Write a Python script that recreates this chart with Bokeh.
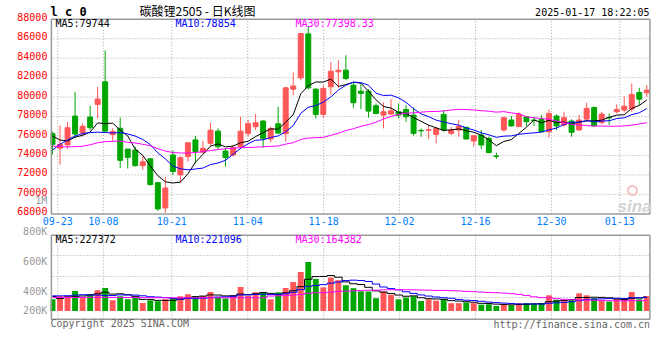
from bokeh.plotting import figure
from bokeh.models import Range1d, Label
from bokeh.embed import file_html
from bokeh.resources import INLINE

# ---------------- data ----------------
dates = ["09-20", "09-23", "09-24", "09-25", "09-26", "09-27", "09-30",
         "10-08", "10-09", "10-10", "10-11",
         "10-14", "10-15", "10-16", "10-17", "10-18",
         "10-21", "10-22", "10-23", "10-24", "10-25",
         "10-28", "10-29", "10-30", "10-31", "11-01",
         "11-04", "11-05", "11-06", "11-07", "11-08",
         "11-11", "11-12", "11-13", "11-14", "11-15",
         "11-18", "11-19", "11-20", "11-21", "11-22",
         "11-25", "11-26", "11-27", "11-28", "11-29",
         "12-02", "12-03", "12-04", "12-05", "12-06",
         "12-09", "12-10", "12-11", "12-12", "12-13",
         "12-16", "12-17", "12-18", "12-19", "12-20",
         "12-23", "12-24", "12-25", "12-26", "12-27",
         "12-30", "12-31", "01-02", "01-03",
         "01-06", "01-07", "01-08", "01-09", "01-10",
         "01-13", "01-14", "01-15", "01-16", "01-17"]

open_ = [76250, 74750, 75080, 78050, 76300, 77950, 79250, 81570, 76150, 76800,
         74650, 74550, 72950, 73650, 71200, 68600, 74050, 72000, 73880, 75600,
         74330, 75250, 76500, 74450, 74050, 74900, 76250, 76950, 77540, 75690,
         77260, 76240, 80820, 81980, 86500, 80820, 78220, 81060, 82600, 82770,
         81230, 80610, 80610, 79110, 78150, 78256, 78490, 78730, 78150, 76580,
         76580, 76170, 78220, 76270, 76620, 76890, 75490, 76100, 75760, 73950,
         76620, 77640, 76960, 77980, 77640, 77710, 76440, 78050, 77130, 77540,
         76620, 77740, 78940, 77400, 77900, 78500, 78670, 78770, 80480, 80440]
high = [76450, 77100, 77450, 80550, 77300, 79100, 81050, 84800, 76800, 77900,
        74700, 74900, 73900, 73700, 71250, 71800, 74500, 73900, 75350, 76000,
        75480, 77370, 76780, 74730, 75070, 77980, 77650, 78250, 77600, 76950,
        79000, 81060, 82530, 86600, 87300, 80900, 81230, 83620, 83800, 84300,
        81570, 81330, 80820, 79350, 79450, 79790, 79350, 79180, 78940, 76780,
        77130, 76960, 78670, 76960, 77640, 76950, 76100, 76620, 75930, 74300,
        77980, 78050, 78430, 78050, 77980, 78150, 78730, 78220, 78500, 77710,
        78150, 79420, 79000, 78500, 78320, 79250, 80100, 81400, 80960, 81230]
low = [74100, 73050, 74700, 75800, 75930, 76600, 77800, 76450, 75450, 72700,
       72650, 72850, 72500, 70900, 68300, 68100, 72000, 71200, 73370, 73200,
       74200, 75000, 74660, 72850, 73880, 74730, 75950, 76600, 74800, 75350,
       76200, 75420, 80200, 81740, 80800, 77800, 77880, 80200, 80950, 81740,
       78900, 78770, 77880, 78220, 76780, 78150, 77810, 77470, 76030, 75930,
       75690, 75250, 76440, 76100, 75930, 75650, 74900, 74670, 74220, 73650,
       76440, 76960, 76950, 77030, 77030, 76380, 75830, 76620, 76960, 75930,
       76550, 77470, 76960, 77200, 77130, 78320, 78430, 78500, 79180, 80030]
close = [75150, 75150, 76850, 76200, 77000, 76850, 79800, 76500, 76450, 73500,
         73800, 72950, 73350, 71000, 68500, 70650, 72350, 73780, 75300, 74400,
         74730, 76600, 74900, 73780, 74800, 76500, 77270, 77370, 75760, 76780,
         76300, 80950, 81130, 86530, 80950, 78220, 80890, 82660, 82770, 81910,
         79420, 80380, 78560, 78320, 78490, 78600, 78150, 77980, 76270, 76530,
         76640, 76780, 76610, 76610, 77000, 75690, 76030, 75080, 74290, 73900,
         77880, 77030, 78250, 77470, 77600, 76440, 78320, 77030, 77880, 76380,
         77640, 78840, 77030, 78250, 77860, 78730, 79070, 80270, 79790, 80720]
volume = [193000, 248000, 248000, 330000, 221000, 276000, 342000, 380000, 177000, 243000,
          193000, 215000, 132000, 177000, 160000, 193000, 215000, 243000, 276000, 248000,
          248000, 314000, 231000, 205000, 259000, 396000, 248000, 309000, 309000, 193000,
          309000, 380000, 479000, 644000, 809000, 528000, 391000, 551000, 508000, 424000,
          376000, 325000, 322000, 211000, 322000, 269000, 193000, 221000, 244000, 165000,
          193000, 170000, 198000, 129000, 129000, 140000, 129000, 104000, 111000, 83000,
          116000, 94000, 129000, 129000, 119000, 129000, 259000, 185000, 182000, 193000,
          292000, 259000, 211000, 170000, 157000, 198000, 205000, 314000, 193000, 244000]

# moving-average values at the left edge (their windows start before the first visible day)
ma5_head = [76000, 75580, 75500, 75880]
ma10_head = [74550, 75150, 75600, 76000, 76250, 76350, 76400, 76350, 76320]
ma30_head = [74970, 74900, 74880, 74900, 74950, 75100, 75300, 75420, 75450, 75480,
             75350, 75280, 75150, 75000, 74700, 74450, 74300, 74250, 74250, 74300,
             74400, 74500, 74600, 74700, 74750, 74800, 74820, 74850, 74900]
vma5_head = [240000, 205000, 230000, 235000]
vma10_head = [250000, 250000, 252000, 262000, 268000, 265000, 262000, 258000, 255000]
vma30_head = [222000, 222000, 223000, 223000, 224000, 224000, 225000, 225000, 225000, 224000,
              223000, 222000, 221000, 220000, 219000, 219000, 218000, 218000, 218000, 218000,
              218000, 218000, 218000, 218000, 218000, 218000, 218000, 218000, 218000]

date_ticks = ["09-23", "10-08", "10-21", "11-04", "11-18", "12-02", "12-16", "12-30", "01-13"]
price_ticks = [68000, 70000, 72000, 74000, 76000, 78000, 80000, 82000, 84000, 86000, 88000]
vol_axis_labels = ["1M", "800K", "600K", "400K", "200K"]
legend_main = ["MA5:79744", "MA10:78854", "MA30:77398.33"]
legend_vol = ["MA5:227372", "MA10:221096", "MA30:164382"]
title_code = "lc0"
title_name = "碳酸锂2505 - 日K线图"
stamp = "2025-01-17 18:22:05"


def sma(vals, n, head):
    out = list(head)
    for i in range(len(head), len(vals)):
        out.append(sum(vals[i - n + 1:i + 1]) / n)
    return out


ma5 = sma(close, 5, ma5_head)
ma10 = sma(close, 10, ma10_head)
ma30 = sma(close, 30, ma30_head)
vma5 = sma(volume, 5, vma5_head)
vma10 = sma(volume, 10, vma10_head)
vma30 = sma(volume, 30, vma30_head)

# ---------------- layout helpers (picture pixels -> data) ----------------
W, H = 652, 338
X0PX, DX = 52.0, 7.5228
def xd(px):
    return (px - X0PX) / DX

PY_TOP, PY_BOT = 18.8, 213.3
PP = 20000.0 / (PY_BOT - PY_TOP)
def yd(py):
    return 88000 - (py - PY_TOP) * PP

VBASE, VPP = 310.5, 16500.0
def vd(py):
    return (VBASE - py) * VPP

RED, GREEN = "#ff5757", "#00a600"
GRID = "#aaaaaa"
BORDER = "#9a9a9a"
MONO = "DejaVu Sans Mono"

# the frame fills the whole canvas so that all texts stay visible
p = figure(width=W, height=H, output_backend="svg", toolbar_location=None,
           x_range=Range1d(xd(0), xd(W)), y_range=Range1d(yd(H), yd(0)),
           x_axis_location=None, y_axis_location=None, title=None,
           min_border_left=0, min_border_right=0, min_border_top=0, min_border_bottom=0,
           outline_line_color=None, background_fill_color="white")
p.extra_y_ranges = {"vol": Range1d(vd(H), vd(0))}
p.xgrid.visible = False
p.ygrid.visible = False

n = len(close)
idx = list(range(n))
cols = [RED if c >= o else GREEN for o, c in zip(open_, close)]

# panel extents (pixels)
PL, PR = 50.0, 650.0
MT, MB = 18.7, 213.5
VT, VB = 234.7, 318.7

# grid lines
xs, xe = xd(PL), xd(PR)
hg = price_ticks[1:-1]
p.segment(x0=[xs] * len(hg), x1=[xe] * len(hg), y0=hg, y1=hg,
          line_color=GRID, line_dash="1 2", line_width=1)
vtop, vbot = vd(234), vd(318)
vg = [vbot + k * (vtop - vbot) / 4 for k in (1, 2, 3)]
p.segment(x0=[xs] * 3, x1=[xe] * 3, y0=vg, y1=vg, line_color=GRID, line_dash="1 2",
          line_width=1, y_range_name="vol")
tick_x = [dates.index(d) * 1.0095 - 0.3 for d in date_ticks]
p.segment(x0=tick_x, x1=tick_x, y0=[68000] * len(tick_x), y1=[88000] * len(tick_x),
          line_color=GRID, line_dash="1 2", line_width=1)
p.segment(x0=tick_x, x1=tick_x, y0=[vbot] * len(tick_x), y1=[vtop] * len(tick_x),
          line_color=GRID, line_dash="1 2", line_width=1, y_range_name="vol")

# candles
p.segment(x0=idx, x1=idx, y0=low, y1=high, line_color=cols, line_width=1)
p.vbar(x=idx, width=0.66, top=[max(o, c) for o, c in zip(open_, close)],
       bottom=[min(o, c) for o, c in zip(open_, close)],
       fill_color=cols, line_color=cols, line_width=1)
p.line(idx, ma5, line_color="black", line_width=1)
p.line(idx, ma10, line_color="#0000ff", line_width=1)
p.line(idx, ma30, line_color="#ff00ff", line_width=1)

# volume
p.vbar(x=idx, width=0.78, top=volume, bottom=0, fill_color=cols, line_color=None,
       y_range_name="vol")
p.step(idx, vma5, mode="center", line_color="black", line_width=1, y_range_name="vol")
p.step(idx, vma10, mode="center", line_color="#0000ff", line_width=1, y_range_name="vol")
p.step(idx, vma30, mode="center", line_color="#ff00ff", line_width=1, y_range_name="vol")

# white masks left of the panels (clip marks at the panel edge)
p.quad(left=[xd(0)], right=[xd(PL)], top=[yd(MT - 1)], bottom=[yd(MB + 1)],
       fill_color="white", line_color=None)
p.quad(left=[xd(0)], right=[xd(PL)], top=[yd(VT - 1)], bottom=[yd(VB + 1)],
       fill_color="white", line_color=None)
p.quad(left=[xd(PR)], right=[xd(W)], top=[yd(MT - 1)], bottom=[yd(VB + 1)],
       fill_color="white", line_color=None)

# panel borders
p.quad(left=[xd(50.9)], right=[xd(649.4)], top=[yd(MT)], bottom=[yd(MB)],
       fill_color=None, line_color=BORDER, line_width=1.5)
p.quad(left=[xd(50.9)], right=[xd(649.4)], top=[yd(VT)], bottom=[yd(VB)],
       fill_color=None, line_color=BORDER, line_width=1.5)


def lab(text, px, py, color, size="10px", font=MONO, align="left", style="normal",
        baseline="middle"):
    p.add_layout(Label(x=xd(px), y=yd(py), text=text, text_color=color, text_font=font,
                       text_font_size=size, text_align=align, text_baseline=baseline,
                       text_font_style=style))


# price axis labels (drawn slightly above their grid lines, as in the source)
for t in price_ticks:
    p.add_layout(Label(x=xd(46.9), y=t + 2.5 * PP, text=str(t), text_color="#ff0000",
                       text_font=MONO, text_font_size="10px", text_align="right",
                       text_baseline="middle"))

# date labels
for d, tx in zip(date_ticks, tick_x):
    p.add_layout(Label(x=tx, y=yd(220.7), text=d, text_color="#0080ff", text_font=MONO,
                       text_font_size="10px", text_align="center", text_baseline="middle"))

# legends
lcol = ["black", "#0000ff", "#ff00ff"]
for t, px, c in zip(legend_main, [55, 175, 295], lcol):
    lab(t, px, 22.8, c)
for t, px, c in zip(legend_vol, [55, 175, 295], lcol):
    lab(t, px, 238.5, c)

# volume axis labels
for t, py in zip(vol_axis_labels, [200.3, 231, 261, 290.7, 310]):
    lab(t, 46.7, py, "#999999", align="right")

# titles
lab(" ".join(title_code), 50, 11.7, "black", size="12px", style="bold")
lab(title_name, 197, 9.5, "black", size="12px", font="Noto Sans CJK SC", align="center")
lab(stamp, 649, 11.7, "black", size="10px", align="right")

# footer
lab("Copyright 2025 SINA.COM", 50, 323.3, "#666666")
lab("http://finance.sina.com.cn", 649.5, 324, "#666666", align="right")

# watermark
p.scatter([xd(632)], [yd(190)], marker="circle", size=9, fill_color=None,
          line_color="#f3c0c0", line_width=2)
lab("sina", 651, 206, "#d2d2d2", size="17px", font="Liberation Sans", align="right",
    style="bold italic", baseline="alphabetic")

open("out.html", "w").write(file_html(p, INLINE))
